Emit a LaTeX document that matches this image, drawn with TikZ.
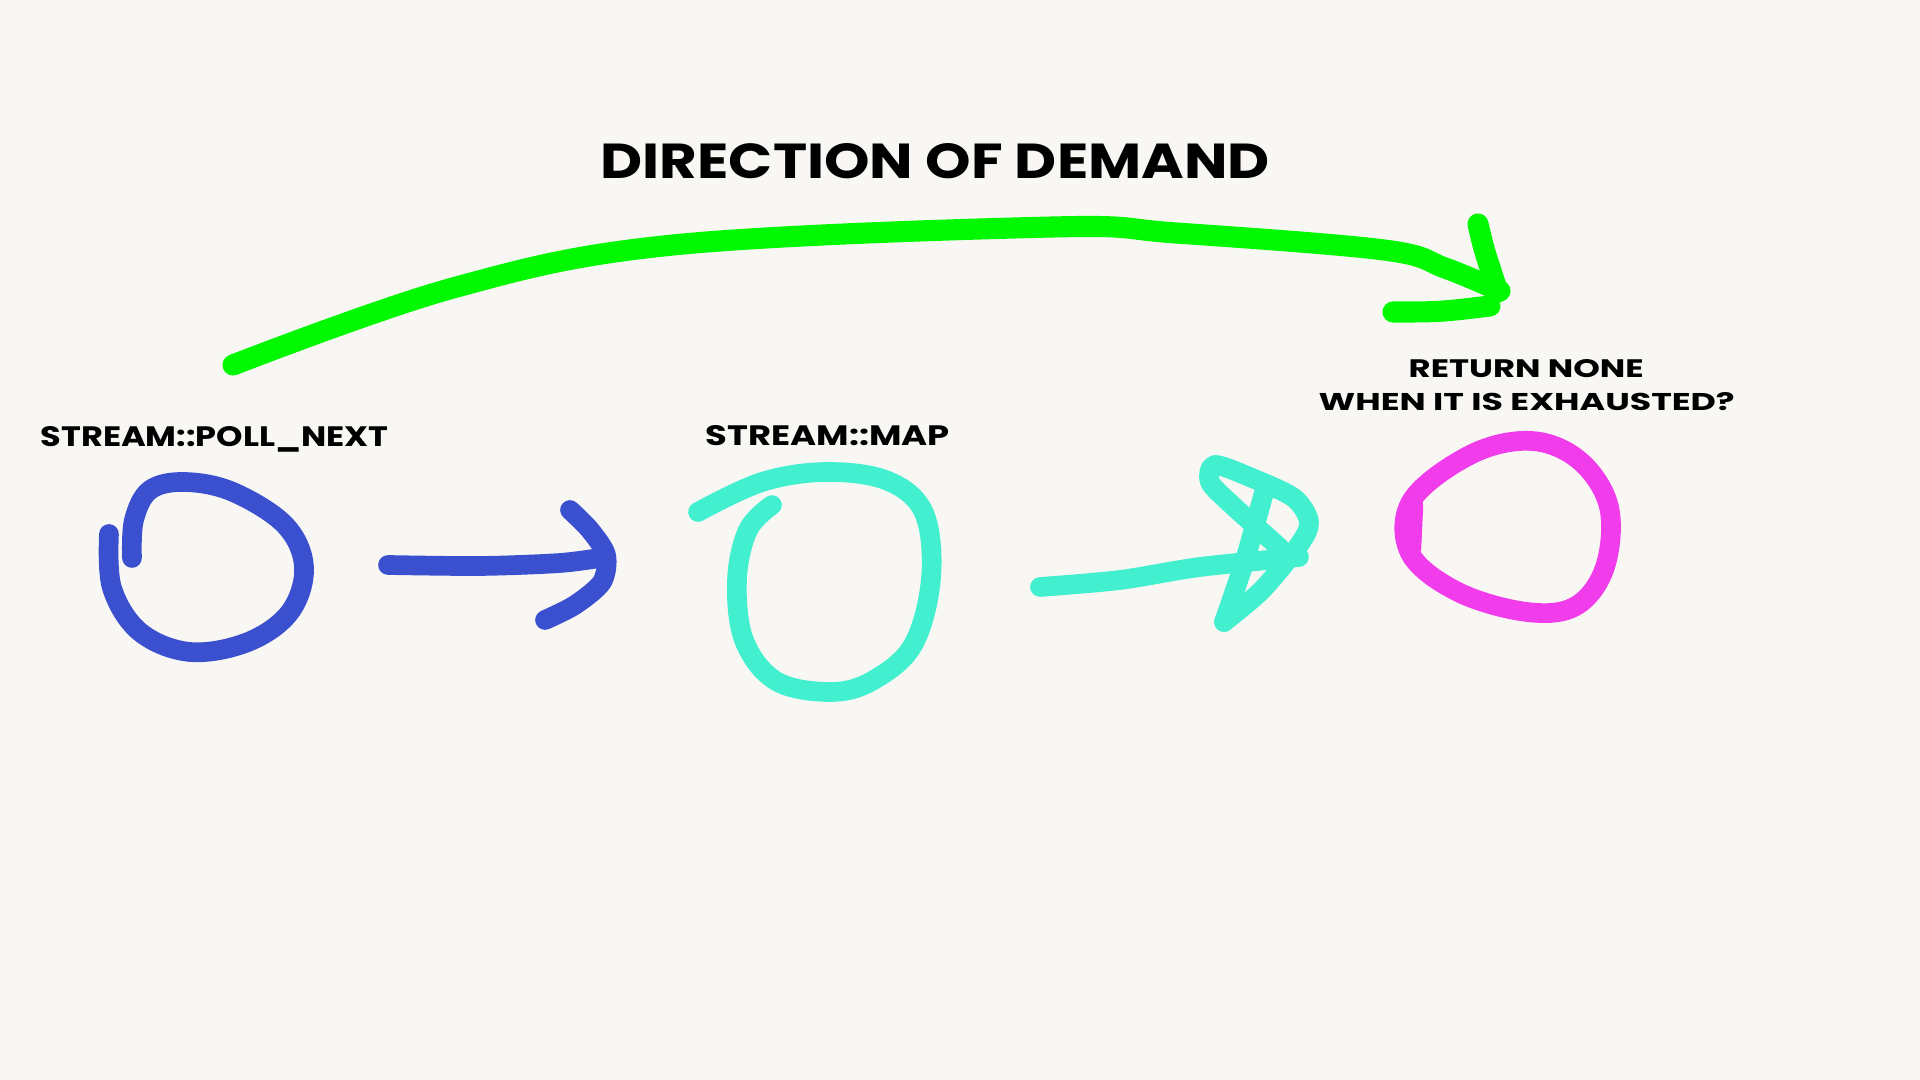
\documentclass[tikz,border=0pt]{standalone}
\usepackage{fontspec}
\usepackage{graphicx}
\newfontfamily\lblfont{Poppins}
\newlength\px \setlength\px{0.01cm}
\definecolor{bgc}{HTML}{F8F7F4}
\definecolor{pblue}{HTML}{3A50CF}
\definecolor{pteal}{HTML}{42F0D0}
\definecolor{pmag}{HTML}{F03CEA}
\definecolor{pgreen}{HTML}{00F800}
\begin{document}
\begin{tikzpicture}[x=0.01cm,y=-0.01cm,
  pen/.style={line width=5.6pt,line cap=round,line join=round},
  lbl/.style={anchor=base west,inner sep=0pt}]
\fill[bgc] (0,0) rectangle (1920,1080);
\useasboundingbox (0,0) rectangle (1920,1080);
% texts
\node[lbl] (title) at (600,179) {\resizebox{669\px}{35\px}{\lblfont\bfseries DIRECTION OF DEMAND}};
\node[lbl] (poll) at (40,447) {\resizebox{348\px}{20\px}{\lblfont\bfseries STREAM::POLL\_NEXT}};
\node[lbl] (map) at (705,446) {\resizebox{244\px}{20\px}{\lblfont\bfseries STREAM::MAP}};
\node[lbl] (ret1) at (1408,378) {\resizebox{235\px}{18\px}{\lblfont\bfseries RETURN NONE}};
\node[lbl] (ret2) at (1318,411) {\resizebox{416\px}{18\px}{\lblfont\bfseries WHEN IT IS EXHAUSTED?}};
% green arrow
\draw[pen,pgreen,line width=6pt] plot[smooth,tension=0.6] coordinates {(233,365) (453,288) (673,245) (1053,227) (1176,233) (1384,250) (1445,268) (1500,291)};
\draw[pen,pgreen,line width=6pt] (1478,224) .. controls (1484,250) .. (1498,292);
\draw[pen,pgreen,line width=6pt] (1393,312) .. controls (1440,312) .. (1490,306);
% blue circle
\draw[pen,pblue] plot[smooth,tension=0.6] coordinates {(132,558) (134,520) (150,490) (185,482) (233,492) (285,525) (304,567) (290,612) (248,642) (190,652) (140,632) (112,588) (109,534)};
% blue arrow
\draw[pen,pblue] plot[smooth,tension=0.5] coordinates {(388,565) (480,566) (560,563) (606,557)};
\draw[pen,pblue] plot[smooth,tension=0.5] coordinates {(570,510) (590,530) (606,555) (602,582) (575,605) (545,620)};
% teal circle
\draw[pen,pteal] plot[smooth,tension=0.6] coordinates {(698,512) (762,482) (827,472) (888,481) (924,513) (931,578) (913,645) (872,681) (830,692) (776,681) (744,640) (737,580) (748,530) (772,505)};
% teal arrow
\draw[pen,pteal] plot[smooth,tension=0.5] coordinates {(1040,587) (1120,580) (1200,567) (1299,557)};
\draw[pen,pteal] plot[smooth,tension=0.4] coordinates {(1265,489) (1245,560) (1224,622)};
\draw[pen,pteal] plot[smooth,tension=0.5] coordinates {(1224,622) (1262,590) (1299,545) (1309,522) (1294,498) (1252,478) (1215,465) (1210,482) (1232,505) (1280,548)};
% magenta circle
\draw[pen,pmag] plot[smooth cycle,tension=0.6] coordinates {(1412,500) (1472,454) (1532,441) (1580,461) (1609,507) (1605,567) (1576,606) (1527,612) (1458,592) (1410,553)};
\draw[pen,pmag,line width=6.4pt] (1412,505) -- (1410,548);
\end{tikzpicture}
\end{document}
